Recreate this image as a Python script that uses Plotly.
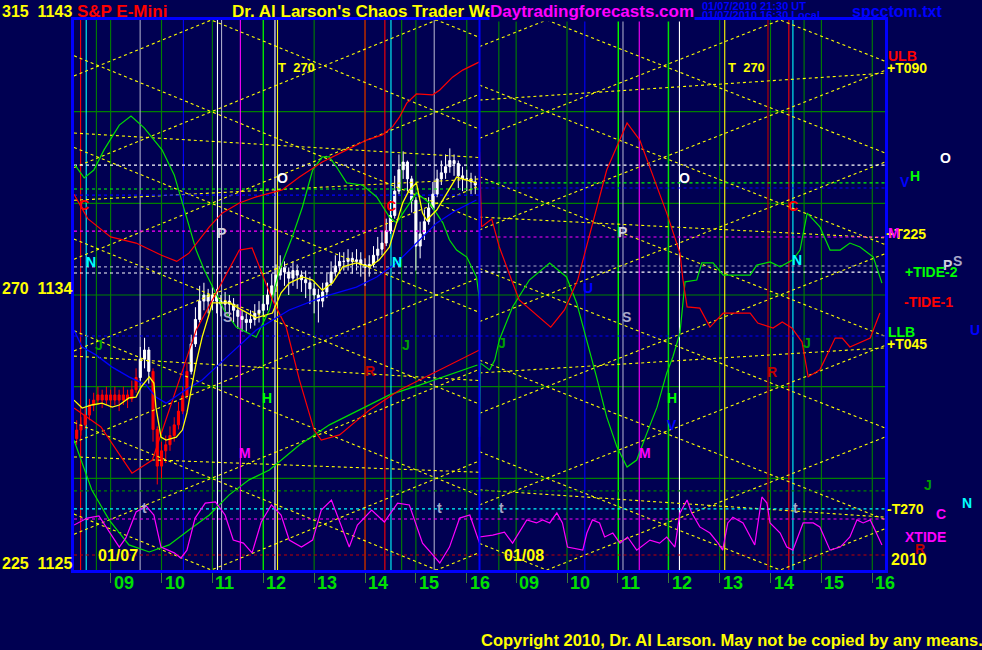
import plotly.graph_objects as go

# ---------------- data ----------------
DAY_START, DAY_END = 8.28, 16.25          # session hours shown per day
HOURS = [9, 10, 11, 12, 13, 14, 15, 16]
HOUR_LABELS = ["09", "10", "11", "12", "13", "14", "15", "16"]
PRICE_GRID = [1128, 1131, 1134, 1137, 1140]
BANDS = [1125, 1128, 1131, 1134, 1137, 1140, 1143]
DAY_LABELS = ["01/07", "01/08"]

# 5-minute bars, day 1 (01/07), first bar at 8:20
BAR_T0 = 8 + 20 / 60
BAR_STEP = 5 / 60
bar_first_open = 1129.3
bar_close = [1129.58, 1129.75, 1130.07, 1130.40, 1130.56, 1130.73, 1130.56, 1130.73, 1130.56, 1130.73,
             1130.56, 1130.73, 1130.60, 1130.90, 1131.30, 1131.90, 1132.20, 1131.50, 1129.60, 1128.40,
             1128.90, 1129.10, 1129.40, 1129.75, 1130.20, 1130.70, 1131.50, 1132.40, 1133.20, 1133.80,
             1134.00, 1133.80, 1134.00, 1133.80, 1133.70, 1133.80, 1133.70, 1133.50, 1133.30, 1133.20,
             1133.10, 1133.20, 1133.40, 1133.50, 1133.70, 1134.00, 1134.30, 1134.65, 1134.90, 1134.75,
             1134.55, 1134.80, 1134.65, 1134.50, 1134.40, 1134.20, 1134.00, 1133.80, 1134.10, 1134.40,
             1134.75, 1134.95, 1135.10, 1135.10, 1135.20, 1135.10, 1135.15, 1135.00, 1134.90, 1135.00,
             1135.30, 1135.50, 1135.70, 1136.10, 1136.60, 1137.40, 1138.10, 1138.35, 1137.80, 1137.10,
             1135.60, 1136.00, 1136.40, 1136.85, 1137.30, 1137.80, 1138.00, 1138.20, 1138.40, 1138.30,
             1137.90, 1137.80, 1137.80, 1137.70, 1137.60]
bar_high = [1129.9, 1130.0, 1130.3, 1130.6, 1130.8, 1131.0, 1130.9, 1131.0, 1130.9, 1131.0,
            1130.9, 1131.0, 1130.9, 1131.2, 1131.6, 1132.3, 1132.6, 1132.3, 1131.6, 1129.7,
            1129.2, 1129.4, 1129.7, 1130.0, 1130.5, 1131.0, 1131.8, 1132.7, 1133.6, 1134.3,
            1134.4, 1134.2, 1134.3, 1134.2, 1134.0, 1134.1, 1134.0, 1133.9, 1133.7, 1133.5,
            1133.4, 1133.5, 1133.7, 1133.8, 1134.0, 1134.4, 1134.7, 1135.0, 1135.3, 1135.1,
            1134.9, 1135.1, 1135.0, 1134.8, 1134.8, 1134.6, 1134.4, 1134.2, 1134.4, 1134.7,
            1135.1, 1135.3, 1135.4, 1135.4, 1135.5, 1135.4, 1135.5, 1135.4, 1135.2, 1135.3,
            1135.6, 1135.9, 1136.1, 1136.5, 1137.1, 1137.9, 1138.6, 1138.7, 1138.4, 1137.9,
            1137.2, 1136.4, 1136.8, 1137.2, 1137.7, 1138.1, 1138.4, 1138.6, 1138.8, 1138.6,
            1138.4, 1138.2, 1138.1, 1138.0, 1137.9]
bar_low = [1129.1, 1129.4, 1129.6, 1129.9, 1130.2, 1130.4, 1130.3, 1130.4, 1130.3, 1130.4,
           1130.2, 1130.4, 1130.3, 1130.5, 1130.8, 1131.2, 1131.6, 1131.1, 1129.2, 1127.8,
           1128.0, 1128.5, 1128.9, 1129.2, 1129.6, 1130.1, 1130.6, 1131.4, 1132.3, 1133.1,
           1133.5, 1133.4, 1133.5, 1133.4, 1133.3, 1133.4, 1133.3, 1133.1, 1132.9, 1132.8,
           1132.8, 1132.9, 1133.0, 1133.1, 1133.3, 1133.5, 1133.8, 1134.1, 1134.5, 1134.3,
           1134.0, 1134.3, 1134.2, 1134.1, 1133.9, 1133.7, 1133.4, 1133.1, 1133.6, 1133.9,
           1134.3, 1134.6, 1134.7, 1134.8, 1134.8, 1134.7, 1134.8, 1134.6, 1134.3, 1134.6,
           1134.9, 1135.1, 1135.3, 1135.6, 1136.0, 1136.5, 1137.3, 1137.8, 1137.4, 1136.7,
           1134.8, 1135.2, 1135.8, 1136.3, 1136.8, 1137.2, 1137.6, 1137.8, 1138.0, 1137.9,
           1137.5, 1137.4, 1137.4, 1137.3, 1137.3]
bar_kind = "R" * 15 + "W" * 3 + "R" * 9 + "W" * 68   # red / white bar colouring

# smoothed price line (yellow), day 1
yel_h = [8.28, 8.44, 8.63, 8.83, 9.03, 9.17, 9.36, 9.50, 9.60, 9.76, 9.85, 9.89, 9.99, 10.09, 10.29,
         10.41, 10.50, 10.58, 10.68, 10.80, 11.00, 11.33, 11.67, 11.86, 12.18, 12.35, 12.51, 12.77,
         12.97, 13.16, 13.36, 13.56, 13.83, 14.09, 14.28, 14.48, 14.62, 14.74, 14.87, 15.01, 15.13,
         15.21, 15.41, 15.53, 15.66, 15.80, 16.00, 16.19]
yel_p = [1130.56, 1130.30, 1130.40, 1130.46, 1130.33, 1130.40, 1130.63, 1130.66, 1130.99, 1131.32,
         1131.12, 1130.33, 1129.35, 1129.25, 1129.35, 1129.58, 1130.14, 1130.89, 1131.77, 1132.63,
         1133.74, 1133.74, 1133.41, 1133.25, 1133.41, 1134.07, 1134.39, 1134.59, 1134.49, 1134.16,
         1134.39, 1134.92, 1135.05, 1134.92, 1135.15, 1135.57, 1136.36, 1137.01, 1137.44, 1137.67,
         1136.68, 1136.45, 1136.78, 1137.11, 1137.44, 1137.86, 1137.76, 1137.67]

# blue smooth line, day 1
blue_h = [8.28, 8.44, 8.71, 9.03, 9.36, 9.70, 9.89, 10.09, 10.41, 10.80, 11.33, 11.86, 12.51, 13.16,
          13.83, 14.23, 14.62, 15.01, 15.41, 15.80, 16.19]
blue_p = [1132.85, 1132.30, 1132.04, 1131.64, 1131.32, 1131.05, 1130.66, 1130.46, 1130.83, 1131.22,
          1132.04, 1132.85, 1133.51, 1133.93, 1134.26, 1134.59, 1135.05, 1135.70, 1136.36, 1136.78,
          1137.11]

# +TIDE-2 (green): day 1 then day 2
g1_h = [8.30, 8.48, 8.67, 8.87, 9.17, 9.40, 9.66, 10.01, 10.25, 10.45, 10.68, 10.84, 11.04, 11.23,
        11.47, 11.86, 12.12, 12.32, 12.57, 12.77, 12.97, 13.16, 13.30, 13.44, 13.64, 13.95, 14.23,
        14.48, 14.62, 14.87, 15.01, 15.27, 15.53, 15.66, 15.80, 16.00, 16.19, 16.25]
g1_p = [1138.25, 1137.83, 1138.09, 1138.75, 1139.56, 1139.86, 1139.47, 1138.75, 1137.93, 1136.78,
        1135.47, 1134.82, 1134.16, 1133.51, 1132.95, 1132.62, 1133.51, 1134.82, 1135.90, 1136.88,
        1138.09, 1138.52, 1138.52, 1138.19, 1137.67, 1137.60, 1137.21, 1136.55, 1136.36, 1137.01,
        1137.34, 1137.01, 1136.36, 1135.80, 1135.47, 1135.24, 1134.59, 1133.84]
g2_h = [8.28, 8.30, 8.48, 8.58, 8.67, 8.93, 9.26, 9.66, 9.99, 10.19, 10.39, 10.58, 10.78, 10.98,
        11.18, 11.37, 11.57, 11.77, 11.96, 12.08, 12.22, 12.32, 12.55, 12.65, 12.87, 13.07, 13.60,
        13.73, 13.99, 14.19, 14.44, 14.58, 14.72, 14.97, 15.17, 15.37, 15.56, 15.76, 16.02, 16.19]
g2_p = [1129.35, 1131.77, 1131.55, 1131.87, 1132.53, 1133.61, 1134.49, 1135.05, 1134.59, 1133.74,
        1132.53, 1131.32, 1130.01, 1129.03, 1128.37, 1128.60, 1129.48, 1130.33, 1131.45, 1131.97,
        1132.76, 1134.43, 1134.49, 1135.05, 1135.05, 1134.65, 1134.65, 1134.98, 1135.08, 1134.92,
        1135.15, 1135.47, 1136.68, 1136.23, 1135.47, 1135.47, 1135.70, 1135.57, 1135.24, 1134.39]

# lower green curve, day 1
lg_h = [8.28, 8.63, 8.97, 9.36, 9.76, 10.15, 10.54, 10.94, 11.33, 11.72, 12.12, 12.71, 13.30, 13.89,
        14.48, 15.07, 15.66, 16.21]
lg_p = [1129.25, 1127.62, 1126.64, 1125.82, 1125.59, 1125.82, 1126.31, 1126.80, 1127.46, 1127.95,
        1128.27, 1129.09, 1129.75, 1130.24, 1130.73, 1131.05, 1131.38, 1131.71]

# -TIDE-1 (red): upper curve day 1
ru_h = [8.28, 8.55, 9.00, 9.50, 10.00, 10.30, 10.54, 10.94, 11.19, 11.53, 11.86, 12.37, 12.71, 13.16,
        13.64, 14.03, 14.34, 14.54, 14.68, 14.82, 15.01, 15.33, 15.47, 15.72, 15.92, 16.25]
ru_p = [1137.30, 1136.50, 1135.90, 1135.70, 1135.30, 1135.10, 1135.37, 1136.23, 1136.68, 1137.01,
        1137.21, 1137.44, 1137.86, 1138.35, 1138.75, 1139.07, 1139.24, 1139.50, 1139.83, 1140.28,
        1140.58, 1140.55, 1140.71, 1141.13, 1141.36, 1141.63]
# red lower curve day 1, continuing into day 2
r1_h = [8.28, 8.81, 9.42, 9.82, 10.68, 11.53, 11.78, 11.98, 12.18, 12.45, 12.71, 13.00, 13.14, 13.50,
        14.09, 14.68, 15.47, 16.25]
r1_p = [1130.30, 1129.68, 1128.17, 1128.60, 1132.85, 1135.47, 1135.54, 1134.72, 1133.84, 1132.95,
        1131.22, 1129.58, 1129.25, 1129.42, 1130.24, 1130.89, 1131.55, 1132.20]
r2_h = [8.28, 8.32, 8.52, 8.67, 8.91, 9.06, 9.68, 9.95, 10.21, 10.78, 11.18, 11.43, 11.96, 12.22,
        12.28, 12.36, 12.61, 12.81, 13.07, 13.60, 13.75, 14.05, 14.23, 14.42, 14.62, 14.74, 14.97,
        15.27, 15.41, 15.56, 15.96, 16.15]
r2_p = [1138.68, 1136.23, 1136.49, 1135.57, 1134.49, 1133.84, 1132.95, 1133.51, 1134.49, 1138.09,
        1139.63, 1139.07, 1136.68, 1135.37, 1134.49, 1133.61, 1133.57, 1132.95, 1133.41, 1133.41,
        1133.08, 1132.92, 1133.12, 1132.92, 1132.46, 1131.32, 1131.55, 1132.59, 1132.59, 1132.30,
        1132.59, 1133.41]

# XTIDE (magenta) both days
m1_h = [8.28, 8.54, 8.77, 9.01, 9.17, 9.30, 9.50, 9.70, 9.85, 9.99, 10.25, 10.38, 10.50, 10.66,
        10.86, 11.06, 11.25, 11.41, 11.61, 11.78, 11.96, 12.16, 12.35, 12.51, 12.75, 12.97, 13.14,
        13.34, 13.50, 13.69, 13.85, 14.13, 14.38, 14.64, 14.87, 15.13, 15.47, 15.66, 15.86, 16.06,
        16.25]
m1_p = [1126.47, 1126.70, 1126.77, 1126.14, 1125.75, 1126.05, 1126.90, 1127.09, 1126.80, 1125.75,
        1125.56, 1125.39, 1125.65, 1126.70, 1127.19, 1127.23, 1126.80, 1125.98, 1125.88, 1125.56,
        1126.57, 1127.13, 1126.80, 1125.98, 1125.75, 1125.98, 1126.96, 1127.29, 1126.57, 1125.75,
        1126.47, 1126.96, 1126.57, 1127.19, 1127.13, 1125.88, 1125.23, 1125.75, 1126.70, 1126.80,
        1125.88]
m2_h = [8.28, 8.54, 8.77, 8.93, 9.21, 9.40, 9.52, 9.66, 9.80, 9.91, 10.01, 10.31, 10.39, 10.50,
        10.64, 10.74, 10.90, 11.04, 11.19, 11.37, 11.63, 11.82, 11.96, 12.12, 12.22, 12.36, 12.45,
        12.61, 12.81, 12.97, 13.06, 13.16, 13.26, 13.46, 13.60, 13.69, 13.83, 13.93, 13.99, 14.19,
        14.32, 14.44, 14.64, 14.84, 14.97, 15.11, 15.17, 15.37, 15.56, 15.70, 15.82, 15.96, 16.19]
m2_p = [1126.08, 1126.14, 1126.24, 1125.88, 1126.64, 1126.54, 1126.64, 1126.54, 1126.87, 1126.54,
        1125.75, 1125.65, 1126.21, 1126.64, 1126.54, 1126.08, 1126.21, 1125.88, 1126.08, 1125.65,
        1125.98, 1125.88, 1126.08, 1125.75, 1126.87, 1127.29, 1126.87, 1126.41, 1126.21, 1125.88,
        1125.65, 1126.54, 1126.73, 1126.54, 1126.08, 1125.82, 1127.39, 1127.19, 1126.54, 1126.21,
        1125.75, 1125.65, 1126.54, 1126.54, 1126.41, 1125.88, 1125.65, 1125.75, 1126.08, 1126.64,
        1126.54, 1126.64, 1125.82]

# yellow zig-zag time/price lines: vertex hours and band fraction per day
ZIG = {1: ([8.28, 10.98, 15.41, 16.25], [0.39, 1.0, 0.0, 0.19]),
       2: ([8.28, 9.60, 14.19, 16.25], [0.71, 1.0, 0.0, 0.45])}
# slow yellow lines: (day, price at day start, price at day end)
SHALLOW = [(1, 1139.30, 1138.50), (1, 1137.10, 1137.80), (1, 1132.00, 1131.20), (1, 1128.70, 1128.20),
           (2, 1140.38, 1141.26), (2, 1136.55, 1135.87), (2, 1131.45, 1132.27), (2, 1127.62, 1126.73)]

# vertical timing lines (day, hour, colour)
TIME_LINES = [(1, 8.41, "red"), (1, 8.52, "cyan"), (1, 8.72, "dkgreen"), (1, 9.58, "grey"),
              (1, 10.43, "blue"), (1, 11.10, "white"), (1, 11.18, "grey"), (1, 11.55, "magenta"),
              (1, 12.0, "green"), (1, 12.23, "white"), (1, 12.28, "yellow"), (1, 14.0, "red"),
              (1, 14.39, "red"), (1, 14.51, "cyan"), (1, 14.72, "dkgreen"), (1, 15.36, "grey"),
              (2, 8.66, "dkgreen"), (2, 10.35, "blue"), (2, 11.01, "green"), (2, 11.10, "grey"),
              (2, 11.42, "magenta"), (2, 11.99, "green"), (2, 12.21, "white"), (2, 13.10, "yellow"),
              (2, 13.95, "dkred"), (2, 14.36, "red"), (2, 14.44, "cyan"), (2, 14.66, "dkgreen")]

# horizontal dotted price lines (day, price, colour)
H_DOTS = [(1, 1138.25, "white"), (2, 1138.25, "white"), (1, 1137.47, "green"), (2, 1137.67, "green"),
          (1, 1137.27, "blue"), (2, 1137.50, "blue"), (1, 1136.09, "magenta"), (2, 1135.90, "magenta"),
          (1, 1134.92, "grey"), (2, 1134.95, "grey"), (1, 1134.72, "white"), (2, 1134.75, "white"),
          (1, 1132.66, "blue"), (2, 1132.66, "blue"), (1, 1127.59, "dkgreen"), (2, 1127.59, "dkgreen"),
          (1, 1127.00, "cyan"), (2, 1127.00, "cyan"), (1, 1126.67, "magenta"), (2, 1126.67, "magenta"),
          (1, 1125.49, "dkred"), (2, 1125.49, "dkred")]

# planet letters inside the chart (text, day, hour, price, colour)
LETTERS = [("C", 1, 8.48, 1136.95, "red"), ("N", 1, 8.61, 1135.08, "cyan"), ("J", 1, 8.77, 1132.36, "jgreen"),
           ("P", 1, 11.17, 1136.03, "ltgrey"), ("O", 1, 12.37, 1137.83, "white"), ("S", 1, 11.29, 1133.28, "grey"),
           ("H", 1, 12.08, 1130.63, "green"), ("M", 1, 11.65, 1128.83, "magenta"), ("R", 1, 14.09, 1131.51, "dkred"),
           ("C", 1, 14.52, 1136.91, "red"), ("N", 1, 14.62, 1135.08, "cyan"), ("J", 1, 14.80, 1132.36, "jgreen"),
           ("t", 1, 9.66, 1127.03, "grey"), ("t", 1, 15.47, 1127.03, "grey"),
           ("J", 2, 8.73, 1132.43, "jgreen"), ("U", 2, 10.42, 1134.23, "blue"), ("S", 2, 11.17, 1133.28, "grey"),
           ("P", 2, 11.09, 1136.06, "ltgrey"), ("O", 2, 12.30, 1137.83, "white"), ("H", 2, 12.06, 1130.63, "green"),
           ("V", 2, 12.06, 1129.75, "blue"), ("M", 2, 11.53, 1128.83, "magenta"), ("R", 2, 14.03, 1131.48, "dkred"),
           ("C", 2, 14.44, 1136.91, "red"), ("N", 2, 14.52, 1135.15, "cyan"), ("J", 2, 14.72, 1132.43, "jgreen"),
           ("t", 2, 8.71, 1127.03, "grey"), ("t", 2, 14.50, 1127.03, "grey")]
T_LABELS = [(1, 12.65, 1141.43), (2, 13.53, 1141.43)]

COL = {"red": "#FF0000", "dkred": "#C00000", "cyan": "#00FFFF", "dkgreen": "#008000",
       "green": "#00FF00", "jgreen": "#00A000", "grey": "#A8A8C8", "ltgrey": "#D0D0E0",
       "white": "#FFFFFF", "blue": "#0000FF", "magenta": "#FF00FF", "yellow": "#FFFF00"}

BG = "#000052"
FONT = "Liberation Sans, Arial, sans-serif"
SPAN = DAY_END - DAY_START


def X(day, h):
    return h + (day - 1) * SPAN


# pixel -> paper helpers for layout text (plot area 74..885 x 20..570)
def px(x):
    return (x - 74) / 811.0


def py(y):
    return (570 - y) / 550.0


fig = go.Figure()

# yellow zig-zags
zx, zy = [], []
for day, (th, fr) in ZIG.items():
    for i in range(len(BANDS) - 1):
        lo, hi = BANDS[i], BANDS[i + 1]
        for flip in (False, True):
            for h, f in zip(th, fr):
                v = 1 - f if flip else f
                zx.append(X(day, h))
                zy.append(lo + (hi - lo) * v)
            zx.append(None)
            zy.append(None)
for day, p0, p1 in SHALLOW:
    zx += [X(day, DAY_START), X(day, DAY_END), None]
    zy += [p0, p1, None]
fig.add_trace(go.Scatter(x=zx, y=zy, mode="lines", line=dict(color="#FFFF00", width=1.1, dash="dot"),
                         hoverinfo="skip"))

# horizontal dotted lines
for day, p, c in H_DOTS:
    fig.add_trace(go.Scatter(x=[X(day, DAY_START), X(day, DAY_END)], y=[p, p], mode="lines",
                             line=dict(color=COL[c], width=1.1, dash="dot"), hoverinfo="skip"))

# tide curves
fig.add_trace(go.Scatter(x=[X(1, h) for h in lg_h], y=lg_p, mode="lines",
                         line=dict(color="#00E000", width=1.2), hoverinfo="skip"))
fig.add_trace(go.Scatter(x=[X(1, h) for h in g1_h] + [X(2, h) for h in g2_h], y=g1_p + g2_p,
                         mode="lines", line=dict(color="#00E000", width=1.2), hoverinfo="skip"))
fig.add_trace(go.Scatter(x=[X(1, h) for h in ru_h], y=ru_p, mode="lines",
                         line=dict(color="#FF0000", width=1.2), hoverinfo="skip"))
fig.add_trace(go.Scatter(x=[X(1, h) for h in r1_h] + [X(2, h) for h in r2_h], y=r1_p + r2_p,
                         mode="lines", line=dict(color="#FF0000", width=1.2), hoverinfo="skip"))
fig.add_trace(go.Scatter(x=[X(1, h) for h in m1_h] + [X(2, h) for h in m2_h], y=m1_p + m2_p,
                         mode="lines", line=dict(color="#FF00FF", width=1.2), hoverinfo="skip"))
fig.add_trace(go.Scatter(x=[X(1, h) for h in blue_h], y=blue_p, mode="lines",
                         line=dict(color="#0000FF", width=1.3), hoverinfo="skip"))

# price bars
bar_open = [bar_first_open] + bar_close[:-1]
bar_x = [X(1, BAR_T0 + k * BAR_STEP) for k in range(len(bar_close))]
for kind, colr in (("R", "#FF0000"), ("W", "#FFFFFF")):
    idx = [k for k, c in enumerate(bar_kind) if c == kind]
    fig.add_trace(go.Candlestick(
        x=[bar_x[k] for k in idx], open=[bar_open[k] for k in idx], high=[bar_high[k] for k in idx],
        low=[bar_low[k] for k in idx], close=[bar_close[k] for k in idx],
        increasing=dict(line=dict(color=colr, width=1), fillcolor=colr),
        decreasing=dict(line=dict(color=colr, width=1), fillcolor=colr),
        whiskerwidth=0, hoverinfo="skip", showlegend=False))

fig.add_trace(go.Scatter(x=[X(1, h) for h in yel_h], y=yel_p, mode="lines",
                         line=dict(color="#FFFF00", width=1.3), hoverinfo="skip"))

shapes = []
# horizontal green grid
for p in PRICE_GRID:
    shapes.append(dict(type="line", xref="paper", x0=0, x1=1, yref="y", y0=p, y1=p,
                       line=dict(color="#008000", width=1.2), layer="below"))
# hour lines
for day in (1, 2):
    for h in HOURS:
        shapes.append(dict(type="line", xref="x", x0=X(day, h), x1=X(day, h), yref="paper", y0=0, y1=1,
                           line=dict(color="#008000", width=1.1), layer="below"))
for day, h, c in TIME_LINES:
    shapes.append(dict(type="line", xref="x", x0=X(day, h), x1=X(day, h), yref="paper", y0=0, y1=1,
                       line=dict(color=COL[c], width=1.1), layer="below"))
# day separator
shapes.append(dict(type="line", xref="x", x0=X(2, DAY_START), x1=X(2, DAY_START), yref="paper", y0=0, y1=1,
                   line=dict(color="#0000FF", width=2)))

ann = []


def txt(text, x, y, color, size=16, xanchor="center", xref="paper", yref="paper", bg=None, **kw):
    d = dict(text=text, x=x, y=y, xref=xref, yref=yref, showarrow=False, xanchor=xanchor,
             yanchor="middle", font=dict(family=FONT, size=size, color=color, weight="bold"))
    if bg:
        d["bgcolor"] = bg
        d["borderpad"] = 0
    d.update(kw)
    ann.append(d)


for t, day, h, p, c in LETTERS:
    txt(t, X(day, h), p, COL[c], size=14, xref="x", yref="y")
for day, h, p in T_LABELS:
    txt("T&nbsp;&nbsp;270", X(day, h), p, "#FFFF00", size=13, xref="x", yref="y")

# hour tick labels
for day in (1, 2):
    for h, lab in zip(HOURS, HOUR_LABELS):
        txt(lab, X(day, h), py(583), "#00E000", size=18, xanchor="left", xref="x", xshift=1)
    txt(DAY_LABELS[day - 1], X(day, DAY_START) + 0.44, py(555), "#FFFF00", size=16, xanchor="left", xref="x")

# left price labels
txt("315&nbsp; 1143", px(0), py(11), "#FFFF00", size=16, xanchor="left")
txt("270&nbsp; 1134", px(0), py(288), "#FFFF00", size=16, xanchor="left")
txt("225&nbsp; 1125", px(0), py(563), "#FFFF00", size=16, xanchor="left")

# header
txt("S&amp;P E-Mini", px(75), py(11), "#FF0000", size=17, xanchor="left")
txt("Dr. Al Larson's Chaos Trader Web", px(230), py(11), "#FFFF00", size=17, xanchor="left")
txt("Daytradingforecasts.com", px(489), py(11), "#FF00FF", size=17, xanchor="left", bg=BG)
txt("01/07/2010 21:30 UT", px(700), py(6), "#0000FF", size=11, xanchor="left")
txt("01/07/2010 16:30 Local", px(700), py(15), "#0000FF", size=11, xanchor="left")
txt("spcctom.txt", px(850), py(11), "#0000FF", size=16, xanchor="left")

# right-side labels
RIGHT = [("ULB", 886, 56, "red"), ("+T090", 885, 68, "yellow"), ("O", 938, 158, "white"),
         ("V", 898, 182, "blue"), ("H", 908, 176, "green"), ("+T225", 884, 234, "yellow"),
         ("M", 886, 233, "magenta"), ("S", 951, 261, "grey"), ("P", 941, 265, "ltgrey"),
         ("+TIDE-2", 903, 272, "green"), ("-TIDE-1", 902, 302, "red"), ("U", 968, 330, "blue"),
         ("LLB", 886, 332, "green"), ("+T045", 885, 344, "yellow"), ("J", 922, 485, "jgreen"),
         ("N", 960, 503, "cyan"), ("-T270", 885, 509, "yellow"), ("C", 934, 514, "magenta"),
         ("XTIDE", 903, 537, "magenta"), ("R", 913, 549, "dkred"), ("2010", 889, 559, "yellow")]
for t, x, y, c in RIGHT:
    size = 16 if t == "2010" else 14
    txt(t, px(x), py(y), COL[c], size=size, xanchor="left")

txt("Copyright 2010, Dr. Al Larson. May not be copied by any means.", px(479), py(640), "#FFFF00",
    size=16.5, xanchor="left")

fig.update_layout(
    width=982, height=650, margin=dict(l=74, r=97, t=20, b=80),
    paper_bgcolor=BG, plot_bgcolor=BG, showlegend=False,
    shapes=shapes, annotations=ann,
    xaxis=dict(range=[X(1, DAY_START), X(2, DAY_END)], showgrid=False, zeroline=False,
               showline=True, linecolor="#0000FF", linewidth=3, mirror=True,
               tickvals=[X(d, h) for d in (1, 2) for h in HOURS], ticks="outside", ticklen=10,
               tickcolor="#3A7A3A", tickwidth=1, showticklabels=False, rangeslider=dict(visible=False),
               fixedrange=True),
    yaxis=dict(range=[BANDS[0], BANDS[-1]], showgrid=False, zeroline=False, showline=True,
               linecolor="#0000FF", linewidth=3, mirror=True, showticklabels=False, ticks="",
               fixedrange=True),
)

fig.write_html("out.html", config={"displayModeBar": False},
               post_script="document.body.style.margin='0px';document.body.style.background='" + BG + "';")
